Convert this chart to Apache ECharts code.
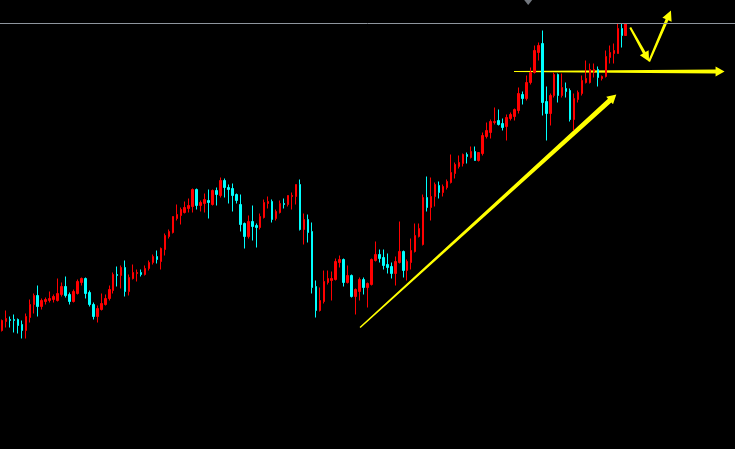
<!DOCTYPE html>
<html><head><meta charset="utf-8">
<style>html,body{margin:0;padding:0;background:#000;}#chart{width:735px;height:449px;}</style>
<script src="https://cdn.jsdelivr.net/npm/echarts@6/dist/echarts.min.js"></script>
</head><body><div id="chart"></div>
<script>
// ---- data ----
const opens = [670,679,681,681,681,676,670,683,696,705, 694,699,700,701,700,706,714,706,699,707,
  718,722,708,696,684,691,696,702,710,726, 725,733,709,722,727,728,726,732,738,744,
  739,751,764,768,782,785,788,792,794,811, 795,797,800,796,810,805,820,813,812,806,
  796,777,764,779,775,773,783,797,799,782, 788,797,796,804,804,816,771,781,769,714,
  690,699,718,720,721,738,741,718,725,704, 709,721,713,716,740,746,743,736,734,727,
  738,749,730,738,749,764,756,803,793,804, 815,808,813,818,827,834,837,846,843,849,
  840,847,864,868,878,880,877,874,882,884, 890,906,902,918,928,948,957,899,887,905,
  926,905,912,910,881,901,907,918,918,929, 931,922,924,943,947,947,972,965];
const closes = [680,682,680,680,675,670,684,696,705,694, 700,701,702,704,707,714,705,699,709,719,
  722,707,696,684,692,697,702,711,726,725, 733,709,723,728,728,726,732,738,744,741,
  752,765,769,784,786,791,793,795,811,795, 798,801,798,810,806,820,813,811,805,800,
  776,764,779,774,773,784,798,799,781,789, 797,796,805,805,816,771,781,768,713,690,
  700,719,722,722,739,741,718,725,704,711, 721,713,717,741,746,742,735,733,727,739,
  749,730,739,750,765,772,803,793,804,816, 808,814,819,828,836,838,846,844,849,840,
  848,865,870,879,879,876,873,883,886,891, 907,902,918,928,950,955,898,887,905,926,
  905,913,909,881,902,908,920,922,931,931, 923,924,944,948,950,972,965,977];
const lows = [669,673,673,668,667,662,662,678,687,684, 691,696,698,698,699,704,703,696,698,706,
  715,702,694,681,678,690,695,700,707,714, 712,704,705,721,719,724,725,730,736,737,
  731,745,762,767,780,776,787,788,788,791, 789,788,782,795,795,803,803,797,789,797,
  769,752,762,760,753,771,782,792,778,780, 787,792,794,791,796,770,756,758,707,683,
  689,697,716,700,720,733,714,717,703,686, 700,706,693,715,739,738,731,727,722,715,
  737,723,720,731,748,763,755,789,780,794, 802,804,811,817,822,832,834,837,842,840,
  839,845,862,862,876,875,870,860,880,880, 887,896,900,916,927,940,885,860,875,903,
  898,903,903,879,870,898,905,917,917,923, 914,920,923,937,937,947,953,965];
const highs = [681,690,684,686,682,680,687,701,707,715, 702,703,709,706,722,718,724,708,711,721,
  723,723,710,698,695,707,706,715,728,734, 735,740,726,736,731,731,735,740,746,750,
  753,767,771,784,796,793,799,802,812,812, 800,807,811,811,813,823,822,816,817,807,
  806,778,785,795,777,787,801,804,801,791, 800,802,805,808,816,821,787,786,778,720,
  713,730,730,729,742,745,742,735,726,712, 723,723,718,742,759,751,751,747,738,744,
  779,750,741,762,777,777,806,824,823,818, 819,816,821,846,838,845,847,848,854,854,
  848,868,878,881,893,891,882,886,888,892, 913,909,925,933,955,958,970,914,907,928,
  927,927,918,912,907,910,925,940,937,937, 934,925,950,955,957,977,977,977];
const lastHighLevel = 977;
// hand-drawn annotations: [candle index, price]
const trendArrow = [[90.125, 673], [154.625, 906]];
const levelArrow = [[128.875, 929], [181.875, 929]];
const dropArrow  = [[158.125, 973], [162.875, 939]];
const riseArrow  = [[162.875, 939], [168.375, 990]];
const topMarker  = [132.45, 998];

// ---- layout / style ----
const slots = 185;
const categories = Array.from({length: slots}, (_, i) => String(i + 1));
const candles = opens.map((o, i) => [o, closes[i], lows[i], highs[i]]);
const arrows = [trendArrow, levelArrow, dropArrow, riseArrow];
const arrowStyle = [
  {w0: 1.5, w1: 5, hl: 9, hw: 5},
  {w0: 1.2, w1: 4, hl: 9, hw: 5},
  {w0: 2, w1: 3, hl: 10, hw: 5},
  {w0: 2, w1: 3, hl: 10, hw: 5}
];

function renderArrow(params, api) {
  const k = api.value(4);
  const s = arrowStyle[k];
  const p0 = api.coord([api.value(0), api.value(1)]);
  const p1 = api.coord([api.value(2), api.value(3)]);
  const dx = p1[0] - p0[0], dy = p1[1] - p0[1];
  const len = Math.hypot(dx, dy);
  const ux = dx / len, uy = dy / len, nx = -uy, ny = ux;
  const sx = p1[0] - ux * s.hl, sy = p1[1] - uy * s.hl;
  const pts = [
    [p0[0] + nx * s.w0 / 2, p0[1] + ny * s.w0 / 2],
    [sx + nx * s.w1 / 2, sy + ny * s.w1 / 2],
    [sx + nx * s.hw, sy + ny * s.hw],
    [p1[0], p1[1]],
    [sx - nx * s.hw, sy - ny * s.hw],
    [sx - nx * s.w1 / 2, sy - ny * s.w1 / 2],
    [p0[0] - nx * s.w0 / 2, p0[1] - ny * s.w0 / 2]
  ];
  return {type: 'polygon', shape: {points: pts}, style: {fill: '#ffff00'}};
}

const chart = echarts.init(document.getElementById('chart'), null, {renderer: 'canvas'});
chart.setOption({
  backgroundColor: '#000000',
  animation: false,
  grid: {left: -2.5, right: -2.5, top: 0, bottom: 0},
  xAxis: [
    {type: 'category', data: categories, boundaryGap: true, show: false},
    {type: 'value', min: -0.5, max: slots - 0.5, show: false}
  ],
  yAxis: {type: 'value', min: 551.5, max: 1000.5, show: false, splitLine: {show: false}},
  series: [
    {
      type: 'candlestick',
      data: candles,
      barWidth: 2,
      itemStyle: {color: '#ff0000', color0: '#00ffff', borderColor: '#ff0000', borderColor0: '#00ffff', borderWidth: 1},
      markLine: {
        silent: true, symbol: ['none', 'none'], label: {show: false},
        lineStyle: {color: '#8e959d', width: 1, type: 'solid'},
        data: [{yAxis: lastHighLevel}]
      }
    },
    {
      type: 'custom',
      xAxisIndex: 1,
      renderItem: renderArrow,
      data: arrows.map((a, k) => [a[0][0], a[0][1], a[1][0], a[1][1], k]),
      silent: true
    },
    {
      type: 'scatter',
      xAxisIndex: 1,
      data: [topMarker],
      symbol: 'triangle',
      symbolRotate: 180,
      symbolSize: [8, 5],
      itemStyle: {color: '#8e959d'},
      silent: true
    }
  ]
});
</script></body></html>
